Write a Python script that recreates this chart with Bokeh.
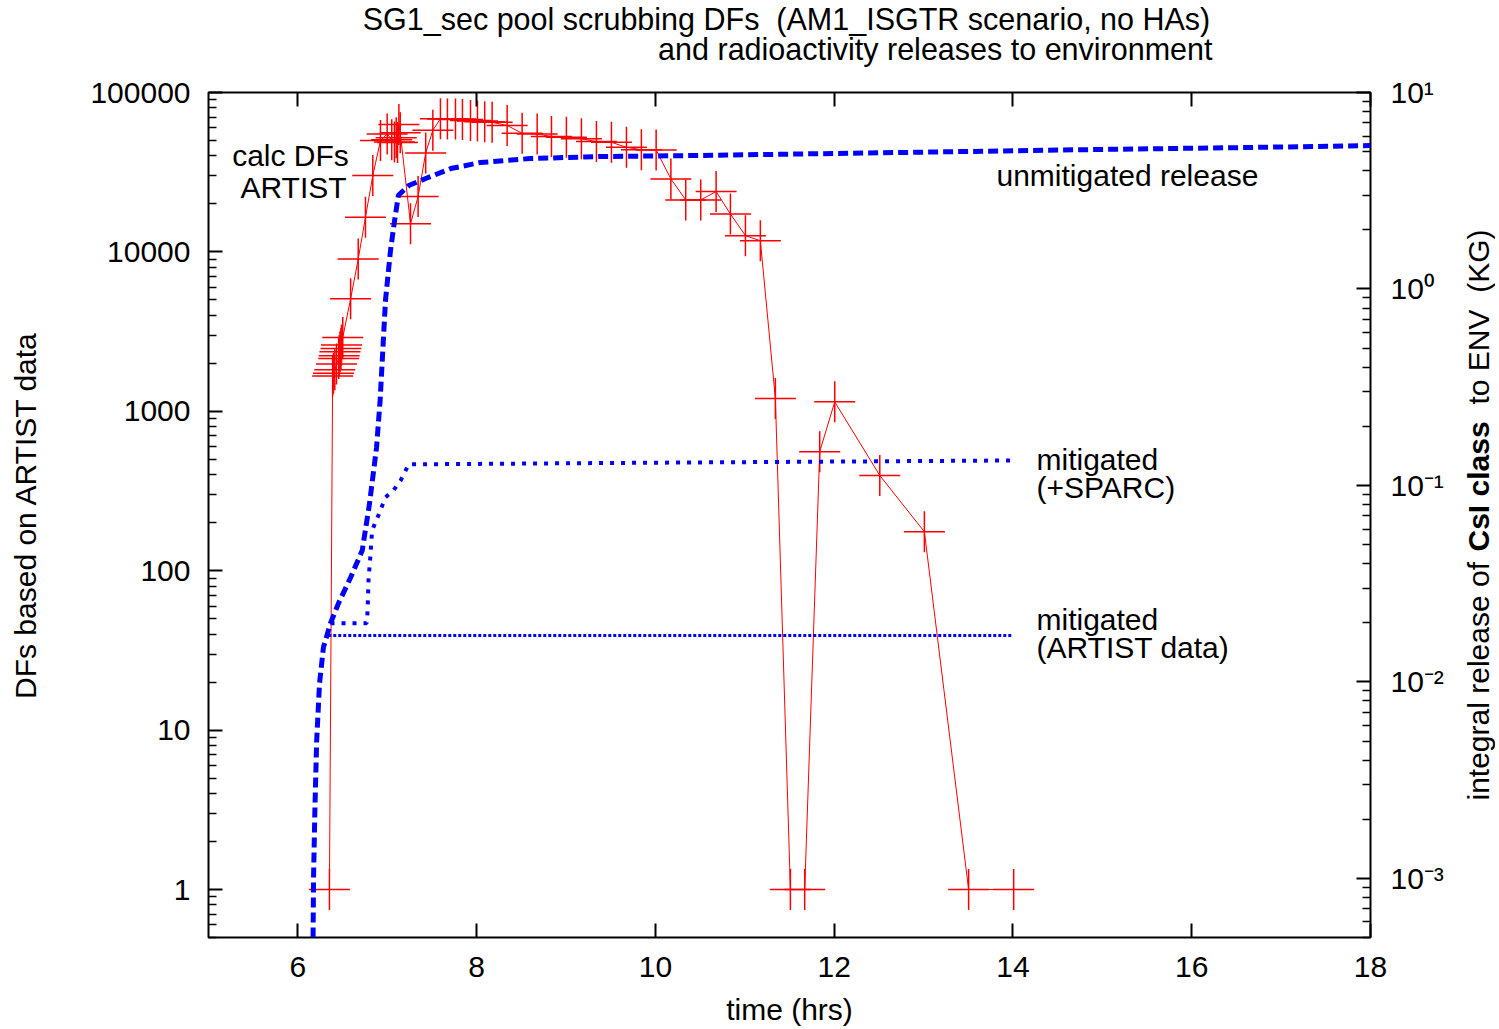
import numpy as np
from bokeh.plotting import figure
from bokeh.layouts import column, row
from bokeh.models import (Range1d, LogScale, LogAxis, LinearAxis, FixedTicker, Label,
                          CustomJSTickFormatter)
from bokeh.core.properties import value
from bokeh.embed import file_html
from bokeh.resources import INLINE

# ---------------- data ----------------
# calculated DFs (left axis)
t_df = [6.353, 6.389, 6.398, 6.413, 6.432, 6.457, 6.462, 6.471, 6.482, 6.488, 6.502,
        6.59, 6.675, 6.756, 6.838, 6.924, 6.999, 7.05, 7.08, 7.10, 7.115, 7.13, 7.145,
        7.26, 7.345, 7.43, 7.51, 7.595, 7.673, 7.763, 7.841, 7.931, 8.009, 8.09, 8.173,
        8.341, 8.509, 8.677, 8.837, 9.004, 9.172, 9.340, 9.508, 9.676, 9.843, 10.008,
        10.173, 10.339, 10.507, 10.679, 10.839, 11.007, 11.174, 11.342, 11.51, 11.67,
        11.838, 12.006, 12.51, 13.009, 13.504, 14.008]
v_df = [1, 1668, 1735, 1820, 1977, 2143, 2229, 2360, 2477, 2602, 2904,
        5080, 9020, 16480, 30100, 49900, 55000, 50500, 49000, 52000, 48500, 63000, 56000,
        15040, 22230, 41800, 58000, 68400, 68200, 68200, 67600, 66700, 66200, 65500, 65000,
        62100, 55500, 55000, 52900, 52400, 51200, 49200, 48700, 45300, 43800, 43600,
        28700, 21200, 21200, 23900, 17300, 12650, 11750, 1202, 1, 1,
        558, 1146, 396, 175.5, 1, 1]

# integral release of CsI class to ENV (KG) (right axis)
t_unmit = [6.17, 6.175, 6.19, 6.21, 6.242, 6.286, 6.365, 6.454, 6.59, 6.72, 6.80, 6.88,
           6.92, 6.98, 7.036, 7.08, 7.125, 7.24, 7.43, 7.71, 8.04, 8.6, 9.38, 10.5,
           12.74, 14.98, 16.66, 18.0]
v_unmit = [5e-4, 1e-3, 2.2e-3, 5e-3, 9.8e-3, 0.015, 0.0199, 0.0251, 0.034, 0.0467, 0.08,
           0.156, 0.271, 0.873, 1.57, 2.2, 3.0, 3.36, 3.65, 4.1, 4.4, 4.61, 4.72, 4.78,
           4.95, 5.13, 5.25, 5.37]

t_sparc = [6.365, 6.77, 6.78, 6.79, 6.81, 6.83, 6.90, 6.98, 7.07, 7.15, 7.24, 9.4, 14.0]
v_sparc = [0.0199, 0.0199, 0.0231, 0.0329, 0.043, 0.059, 0.0703, 0.0869, 0.0944, 0.106,
           0.128, 0.130, 0.134]

t_artist = [6.34, 14.0]
v_artist = [0.0172, 0.0172]

x_ticks = [6, 8, 10, 12, 14, 16, 18]
y_ticks = [1, 10, 100, 1000, 10000, 100000]
y_tick_labels = ["1", "10", "100", "1000", "10000", "100000"]
r_ticks = [0.001, 0.01, 0.1, 1, 10]
r_tick_labels = ["10\u207b\u00b3", "10\u207b\u00b2", "10\u207b\u00b9", "10\u2070", "10\u00b9"]

NB2 = "\u00a0\u00a0"   # two visible spaces (SVG collapses plain runs of spaces)
title_lines = ["SG1_sec pool scrubbing DFs" + NB2 + "(AM1_ISGTR scenario, no HAs)",
               "and radioactivity releases to environment"]
y2_label_parts = ["integral release of", "CsI class", "to ENV" + NB2 + "(KG)"]

# ---------------- layout (page pixels) ----------------
X0, X1 = 5, 18
Y0, Y1 = 0.5, 1e5
R0, R1 = 5e-4, 10
TOTAL_W, TOTAL_H = 1495, 1028
TOP_H = 70                 # title strip height
SIDE_W = 40                # strip for the right axis title
MAIN_W = TOTAL_W - SIDE_W
MAIN_H = TOTAL_H - TOP_H
FL, FT, FW, FH = 208, 92, 1162, 845   # frame position on the page
BT = FT - TOP_H                       # top border of the main figure
BB = MAIN_H - BT - FH                 # bottom border of the main figure
FONT = "Liberation Sans"
FS = "30px"


def dx(X):
    return X0 + (X - FL) / FW * (X1 - X0)


def dy(Y):
    return 10 ** (np.log10(Y0) + (FT + FH - Y) / FH * (np.log10(Y1) - np.log10(Y0)))


p = figure(width=MAIN_W, height=MAIN_H, x_range=Range1d(X0, X1), y_range=Range1d(Y0, Y1),
           y_axis_type="log", output_backend="svg", toolbar_location=None,
           min_border_left=FL, min_border_right=MAIN_W - (FL + FW),
           min_border_top=BT, min_border_bottom=BB)
p.outline_line_color = "black"
p.outline_line_width = 2
p.xgrid.grid_line_color = None
p.ygrid.grid_line_color = None


def style_axis(ax):
    ax.axis_line_color = None
    ax.major_tick_in = 14
    ax.major_tick_out = 0
    ax.minor_tick_in = 8
    ax.minor_tick_out = 0
    ax.major_tick_line_width = 2
    ax.minor_tick_line_width = 1.5
    ax.major_tick_line_color = "black"
    ax.minor_tick_line_color = "black"
    ax.major_label_text_font = FONT
    ax.major_label_text_font_size = FS
    ax.major_label_text_color = "black"
    ax.axis_label_text_font = FONT
    ax.axis_label_text_font_size = FS
    ax.axis_label_text_font_style = "normal"
    ax.axis_label_text_color = "black"


xa = p.xaxis[0]
style_axis(xa)
xa.ticker = FixedTicker(ticks=x_ticks)
xa.axis_label = "time (hrs)"
xa.major_label_standoff = 19
xa.axis_label_standoff = 13

ya = p.yaxis[0]
style_axis(ya)
y_minor = [k * 10.0 ** n for n in range(-1, 5) for k in range(2, 10) if Y0 <= k * 10.0 ** n <= Y1]
ya.ticker = FixedTicker(ticks=y_ticks, minor_ticks=y_minor)
ya.major_label_overrides = {t: s for t, s in zip(y_ticks, y_tick_labels)}
ya.axis_label = "DFs based on ARTIST data"
ya.major_label_standoff = 18
ya.axis_label_standoff = 45

top = LinearAxis(ticker=FixedTicker(ticks=x_ticks),
                 formatter=CustomJSTickFormatter(code="return '';"))
style_axis(top)
top.major_label_standoff = 0
p.add_layout(top, "above")

p.extra_y_ranges = {"r": Range1d(R0, R1)}
p.extra_y_scales = {"r": LogScale()}
ra = LogAxis(y_range_name="r")
style_axis(ra)
r_minor = [k * 10.0 ** n for n in range(-4, 1) for k in range(2, 10) if R0 <= k * 10.0 ** n <= R1]
ra.ticker = FixedTicker(ticks=r_ticks, minor_ticks=r_minor)
ra.major_label_overrides = {t: s for t, s in zip(r_ticks, r_tick_labels)}
ra.major_label_standoff = 20
p.add_layout(ra, "right")

# ---------------- glyphs ----------------
p.line(t_df, v_df, line_color="#ff0000", line_width=1)
p.scatter(t_df, v_df, marker="cross", size=41, line_color="#ff0000", line_width=1.5)

p.line(t_unmit, v_unmit, y_range_name="r", line_color="#0000ff", line_width=5, line_dash="10 5")
p.line(t_sparc, v_sparc, y_range_name="r", line_color="#0000ff", line_width=4, line_dash="4 7")
p.line(t_artist, v_artist, y_range_name="r", line_color="#0000ff", line_width=3, line_dash="3 2")


# ---------------- in-plot texts ----------------
def add_text(X, Y, text, align="left"):
    p.add_layout(Label(x=dx(X), y=dy(Y), text=text, text_align=align, text_baseline="middle",
                       text_font=FONT, text_font_size=FS, text_color="black"))


add_text(290, 155, "calc DFs", align="center")
add_text(293, 187, "ARTIST", align="center")
add_text(996, 175, "unmitigated release")
add_text(1036, 459, "mitigated")
add_text(1036, 487, "(+SPARC)")
add_text(1036, 619, "mitigated")
add_text(1036, 647, "(ARTIST data)")


def strip(w, h, x_start, y_top, y_bottom, b_top=0, b_bottom=0):
    f = figure(width=w, height=h, x_range=Range1d(x_start, x_start + w),
               y_range=Range1d(y_bottom, y_top),
               output_backend="svg", toolbar_location=None,
               min_border_left=0, min_border_right=0,
               min_border_top=b_top, min_border_bottom=b_bottom,
               x_axis_location=None, y_axis_location=None)
    f.outline_line_color = None
    f.xgrid.grid_line_color = None
    f.ygrid.grid_line_color = None
    return f


# ---------------- title strip (y = page pixels) ----------------
tf = strip(TOTAL_W, TOP_H, 0, 0, TOP_H)
tf.text(x=[786], y=[18], text=[title_lines[0]], text_align="center", text_baseline="middle",
        text_font=value(FONT), text_font_size=value("30.5px"), text_color="black")
tf.text(x=[1212], y=[48], text=[title_lines[1]], text_align="right", text_baseline="middle",
        text_font=value(FONT), text_font_size=value("30.5px"), text_color="black")

# ---------------- right-axis title strip (frame aligned with the main frame) ----------------
sf = strip(SIDE_W, MAIN_H, MAIN_W, FT, FT + FH, b_top=BT, b_bottom=BB)
sf.text(x=[1478], y=[800], text=[y2_label_parts[0]], angle=np.pi / 2, text_align="left",
        text_baseline="middle", text_font=value(FONT), text_font_size=value(FS), text_color="black")
sf.text(x=[1478], y=[551], text=[y2_label_parts[1]], angle=np.pi / 2, text_align="left",
        text_baseline="middle", text_font=value(FONT), text_font_size=value(FS),
        text_font_style=value("bold"), text_color="black")
sf.text(x=[1478], y=[404], text=[y2_label_parts[2]], angle=np.pi / 2, text_align="left",
        text_baseline="middle", text_font=value(FONT), text_font_size=value(FS), text_color="black")

layout = column(tf, row(p, sf, spacing=0), spacing=0)
open("out.html", "w").write(file_html(layout, INLINE))
